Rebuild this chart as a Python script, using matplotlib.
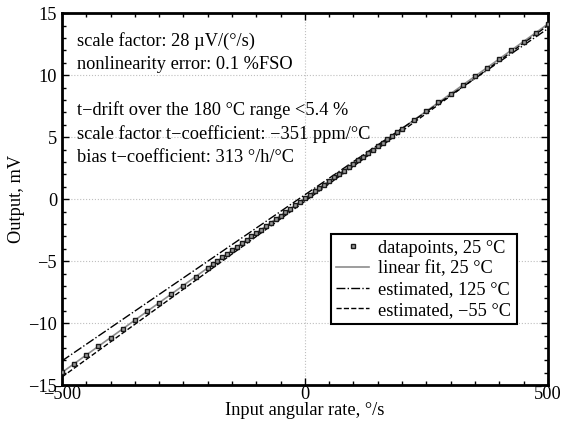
import numpy as np
import matplotlib.pyplot as plt
from matplotlib.ticker import MultipleLocator

plt.rcParams['font.family'] = ['Liberation Serif', 'DejaVu Serif']
plt.rcParams['mathtext.fontset'] = 'stix'

# measured points at 25 C
rate = [-500, -475, -450, -425, -400, -375, -350, -325, -300, -275, -250, -225,
        -200, -190, -180, -170, -160, -150, -140, -130, -120, -110, -100, -90,
        -80, -70, -60, -50, -40, -30, -20, -10, 0, 10, 20, 30, 40, 50, 60, 70,
        80, 90, 100, 110, 120, 130, 140, 150, 160, 170, 180, 190, 200, 225, 250,
        275, 300, 325, 350, 375, 400, 425, 450, 475, 500]
output = [-13.98, -13.27, -12.60, -11.86, -11.18, -10.45, -9.78, -9.05, -8.37,
          -7.65, -6.97, -6.24, -5.56, -5.26, -5.00, -4.70, -4.44, -4.14, -3.87,
          -3.57, -3.31, -3.01, -2.75, -2.45, -2.19, -1.89, -1.63, -1.33, -1.06,
          -0.76, -0.50, -0.20, 0.07, 0.36, 0.62, 0.92, 1.18, 1.49, 1.75, 2.05,
          2.31, 2.61, 2.87, 3.17, 3.43, 3.73, 3.99, 4.30, 4.56, 4.86, 5.12, 5.42,
          5.68, 6.40, 7.09, 7.81, 8.49, 9.21, 9.90, 10.62, 11.30, 12.02, 12.71,
          13.43, 14.12]

# linear fit and estimated curves (end points)
fit_x = [-500, 500]
fit_25 = [-13.98, 14.12]
est_125 = [-13.05, 13.75]
est_m55 = [-14.35, 14.00]

fs = 13.2

fig = plt.figure(figsize=(5.63, 4.26), dpi=100)
ax = fig.add_axes([0.110, 0.096, 0.863, 0.873])

ax.plot(rate, output, linestyle='none', marker='s', markersize=3.5,
        markerfacecolor='0.6', markeredgecolor='0.1', markeredgewidth=1.0,
        label='datapoints, 25 °C', zorder=4)
ax.plot(fit_x, fit_25, color='0.55', linewidth=1.2, label='linear fit, 25 °C', zorder=3)
ax.plot(fit_x, est_125, color='black', linestyle='-.', linewidth=1.0,
        label='estimated, 125 °C', zorder=3)
ax.plot(fit_x, est_m55, color='black', linestyle='--', linewidth=1.0,
        label='estimated, −55 °C', zorder=3)

ax.set_xlim(-500, 500)
ax.set_ylim(-15, 15)
ax.xaxis.set_major_locator(MultipleLocator(500))
ax.xaxis.set_minor_locator(MultipleLocator(50))
ax.yaxis.set_major_locator(MultipleLocator(5))
ax.yaxis.set_minor_locator(MultipleLocator(1))
ax.tick_params(which='both', direction='in', top=True, right=True, labelsize=fs)
ax.tick_params(which='major', length=5, width=1)
ax.tick_params(which='minor', length=3, width=1)
ax.tick_params(axis='x', pad=1)
ax.grid(True, which='major', linestyle=':', color='0.75', linewidth=0.8)
for s in ax.spines.values():
    s.set_linewidth(2)

ax.set_xlabel('Input angular rate, °/s', fontsize=fs, labelpad=-1)
ax.set_ylabel('Output, mV', fontsize=fs, labelpad=2)

lines1 = ['scale factor: 28 µV/(°/s)', 'nonlinearity error: 0.1 %FSO']
lines2 = ['t−drift over the 180 °C range <5.4 %',
          'scale factor t−coefficient: −351 ppm/°C',
          'bias t−coefficient: 313 °/h/°C']
for i, t in enumerate(lines1):
    ax.text(0.031, 0.925 - i * 0.063, t, transform=ax.transAxes, fontsize=fs, va='center')
for i, t in enumerate(lines2):
    ax.text(0.031, 0.74 - i * 0.064, t, transform=ax.transAxes, fontsize=fs, va='center')

leg = ax.legend(loc='lower right', bbox_to_anchor=(0.936, 0.164), fontsize=fs,
                fancybox=False, framealpha=1, edgecolor='black', borderaxespad=0,
                handlelength=1.8, handletextpad=0.5, borderpad=0.3, labelspacing=0.2)
leg.get_frame().set_linewidth(1.5)

fig.savefig('out.png', dpi=100)
